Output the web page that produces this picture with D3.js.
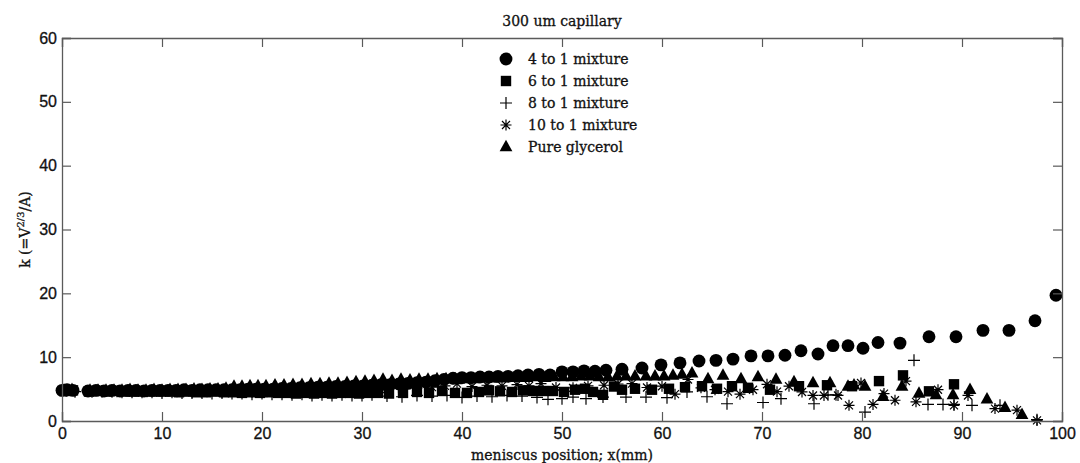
<!DOCTYPE html>
<html>
<head>
<meta charset="utf-8">
<script src="https://cdn.jsdelivr.net/npm/d3@7"></script>
<style>
  html, body { margin: 0; padding: 0; background: #fff; }
  svg { display: block; }
</style>
</head>
<body>
<svg id="chart" width="1080" height="463"></svg>
<script>
// k = V^(2/3)/A against meniscus position x (mm), 300 um capillary
const xTicks = [0, 10, 20, 30, 40, 50, 60, 70, 80, 90, 100];
const yTicks = [0, 10, 20, 30, 40, 50, 60];

const seriesNames = ["4 to 1 mixture", "6 to 1 mixture", "8 to 1 mixture", "10 to 1 mixture", "Pure glycerol"];

const mix4to1 = [
  [0.0,4.8],[0.5,4.9],[1.1,4.8],[2.6,4.7],[3.4,4.8],[4.2,4.7],[5.0,4.8],[5.8,4.7],[6.6,4.8],[7.4,4.8],
  [8.2,4.7],[9.0,4.8],[9.8,4.8],[10.6,4.8],[11.4,4.8],[12.2,4.9],[13.0,4.8],[13.8,4.9],[14.6,4.9],[15.4,4.9],
  [16.2,4.9],[17.0,4.9],[17.8,4.9],[18.6,5.0],[19.4,5.0],[20.2,5.0],[21.1,5.0],[22.0,5.1],[22.9,5.1],[23.8,5.2],
  [24.7,5.2],[25.6,5.3],[26.5,5.3],[27.4,5.4],[28.3,5.4],[29.2,5.5],[30.1,5.5],[31.0,5.6],[31.9,5.7],[32.8,5.7],
  [33.7,5.8],[34.6,5.9],[35.5,6.0],[36.4,6.1],[37.3,6.3],[38.2,6.5],[39.1,6.7],[40.0,6.8],[40.9,6.8],[41.8,6.9],
  [42.7,6.9],[43.6,7.0],[44.6,7.0],[45.6,7.1],[46.6,7.2],[47.7,7.3],[48.8,7.2],[50.0,7.7],[51.1,7.7],[52.2,7.85],
  [53.3,7.8],[54.4,7.95],[56.0,8.1],[58.0,8.3],[59.9,8.8],[61.8,9.1],[63.7,9.4],[65.4,9.5],[67.1,9.7],[68.9,10.2],
  [70.6,10.2],[72.3,10.3],[73.9,11.0],[75.6,10.5],[77.1,11.8],[78.6,11.8],[80.1,11.4],[81.6,12.3],[83.8,12.2],
  [86.7,13.2],[89.4,13.2],[92.1,14.2],[94.7,14.2],[97.3,15.7],[99.4,19.7]
];

const mix6to1 = [
  [0.3,4.7],[1.1,4.8],[2.7,4.6],[3.6,4.7],[4.5,4.6],[5.4,4.7],[6.3,4.6],[7.2,4.6],[8.1,4.6],[9.0,4.6],
  [9.9,4.6],[10.8,4.6],[11.7,4.5],[12.6,4.6],[13.5,4.5],[14.4,4.5],[15.3,4.6],[16.2,4.5],[17.1,4.5],[18.0,4.4],
  [18.9,4.5],[19.8,4.4],[20.7,4.5],[21.6,4.4],[22.5,4.4],[23.4,4.3],[24.3,4.4],[25.2,4.3],[26.1,4.4],[27.0,4.3],
  [27.9,4.4],[28.8,4.4],[29.7,4.3],[30.6,4.4],[31.6,4.4],[32.7,4.3],[34.1,4.4],[35.5,4.55],[36.7,4.4],[38.0,4.7],
  [39.3,4.4],[40.5,4.4],[41.7,4.55],[42.7,4.8],[43.8,4.65],[45.0,4.55],[46.1,4.8],[47.1,4.7],[48.1,4.7],[49.1,4.7],
  [50.2,4.55],[51.3,4.9],[52.3,5.05],[53.1,4.55],[54.1,4.1],[55.2,5.4],[56.0,4.9],[57.3,5.05],[59.0,4.9],[60.7,5.05],
  [62.3,5.3],[64.0,5.45],[65.5,5.05],[67.0,5.45],[68.6,5.2],[70.8,4.9],[73.7,5.45],[76.5,5.6],[79.0,5.45],
  [81.7,6.25],[84.1,7.15],[86.7,4.65],[89.2,5.75]
];

const mix8to1 = [
  [0.4,4.7],[1.3,4.6],[3.0,4.6],[4.0,4.6],[5.0,4.6],[6.0,4.5],[7.0,4.5],[8.0,4.5],[9.0,4.5],[10.0,4.4],
  [11.0,4.5],[12.0,4.4],[13.0,4.4],[14.0,4.4],[15.0,4.3],[16.0,4.4],[17.0,4.3],[18.0,4.3],[19.0,4.2],[20.0,4.3],
  [21.0,4.2],[22.0,4.2],[23.0,4.1],[24.0,4.2],[25.0,4.0],[26.0,4.1],[27.0,4.0],[28.0,4.1],[29.0,4.0],[30.0,4.0],
  [31.0,4.1],[32.5,3.9],[34.0,3.8],[35.5,4.0],[37.0,3.9],[38.5,4.0],[40.0,3.7],[41.5,3.9],[43.0,3.8],[44.5,4.0],
  [46.0,3.9],[47.5,3.7],[48.6,3.4],[50.0,3.5],[51.1,3.75],[52.4,3.5],[54.1,3.75],[56.4,3.75],[58.4,3.75],[60.5,3.65],
  [62.5,4.55],[64.5,3.8],[66.5,2.7],[70.1,2.9],[71.9,3.5],[75.2,2.7],[76.6,4.1],[77.4,4.1],[80.3,1.4],[85.2,9.5],
  [86.6,2.6],[88.1,2.6],[89.2,2.6],[91.0,2.45],[93.8,2.45],[97.5,0.2]
];

const mix10to1 = [
  [0.5,4.7],[2.5,4.7],[4.0,4.7],[5.5,4.6],[7.0,4.6],[8.5,4.6],[10.0,4.6],[11.5,4.6],[13.0,4.5],[14.5,4.6],
  [16.0,4.5],[17.5,4.6],[19.0,4.5],[20.5,4.6],[22.0,4.5],[23.5,4.6],[25.0,4.6],[26.5,4.7],[28.0,4.7],[29.5,4.8],
  [31.0,4.9],[32.5,5.0],[34.0,5.1],[35.5,5.2],[37.0,5.3],[38.3,5.5],[39.5,5.85],[41.0,5.4],[42.5,5.6],[44.0,5.5],
  [45.5,5.7],[46.7,5.5],[47.9,5.85],[49.4,5.25],[51.1,5.2],[52.6,5.5],[54.2,5.6],[55.6,5.8],[57.0,5.85],[58.5,5.25],
  [60.0,5.45],[61.3,4.2],[62.6,6.5],[63.9,5.2],[65.3,4.9],[66.6,4.6],[67.8,4.2],[69.1,4.9],[70.5,5.75],[71.5,4.6],
  [72.7,5.45],[74.0,4.55],[75.1,4.0],[76.2,4.0],[77.6,4.0],[78.7,2.45],[79.9,5.95],[81.1,2.6],[82.2,4.3],[83.3,3.25],
  [84.4,6.25],[85.4,3.0],[87.6,4.9],[89.2,2.45],[90.6,4.0],[93.3,1.95],[95.5,1.7],[97.5,0.1]
];

const pureGlycerol = [
  [0.2,4.8],[1.0,4.9],[2.8,4.8],[3.6,4.8],[4.4,4.8],[5.2,4.8],[6.0,4.8],[6.8,4.9],[7.6,4.8],[8.4,4.8],
  [9.2,4.9],[10.0,4.8],[10.8,4.9],[11.6,4.9],[12.4,4.9],[13.2,5.0],[14.0,4.9],[14.8,5.0],[15.6,5.0],[16.4,5.1],
  [17.2,5.4],[18.0,5.4],[18.8,5.5],[19.6,5.5],[20.4,5.5],[21.3,5.6],[22.2,5.6],[23.1,5.7],[24.0,5.7],[24.9,5.8],
  [25.8,5.8],[26.7,5.9],[27.6,5.9],[28.5,6.0],[29.4,6.1],[30.3,6.2],[31.2,6.3],[32.1,6.5],[33.0,6.3],[33.9,6.5],
  [34.8,6.4],[35.7,6.5],[36.6,6.5],[37.5,6.6],[38.4,6.6],[39.3,6.6],[40.2,6.6],[41.1,6.6],[42.0,6.7],[42.9,6.7],
  [43.8,6.7],[44.7,6.8],[45.6,6.8],[46.5,6.8],[47.4,6.9],[48.3,6.8],[49.2,6.9],[50.1,6.9],[51.0,6.9],[51.9,7.0],
  [52.8,7.0],[53.7,6.9],[54.6,6.9],[55.5,7.0],[56.4,7.0],[57.3,7.0],[58.4,7.0],[59.3,7.0],[60.2,7.0],[61.1,7.15],
  [62.0,7.3],[63.0,7.5],[64.6,6.6],[66.1,7.15],[67.9,6.6],[69.6,6.9],[71.4,6.5],[73.2,6.1],[75.1,5.95],[76.8,5.95],
  [78.6,5.4],[79.2,5.6],[80.3,5.4],[82.1,3.8],[84.0,5.4],[85.7,4.3],[87.4,4.1],[89.1,4.1],[90.8,4.9],[92.5,3.4],
  [94.3,2.1],[96.0,1.0]
];

const svg = d3.select("#chart");
const W = 1080, H = 463;
const margin = { left: 62, right: 18, top: 38, bottom: 42 };
const x0 = margin.left, x1 = W - margin.right;
const y0 = H - margin.bottom, y1 = margin.top;

const x = d3.scaleLinear().domain([0, 100]).range([x0, x1]);
const y = d3.scaleLinear().domain([0, 60]).range([y0, y1]);

const axisColor = "#5a5a5a";
const tickFont = "'Liberation Sans', Arial, sans-serif";
const serifFont = "'DejaVu Serif', 'Liberation Serif', serif";

// Marker path generators (MATLAB-style symbols)
const markerPaths = {
  circle: () => d3.symbol(d3.symbolCircle, 130)(),
  square: () => "M-5.2,-5.2H5.2V5.2H-5.2Z",
  triangle: () => "M0,-7.2L6.4,4.3L-6.4,4.3Z",
  plus: () => "M-6,0H6M0,-6V6",
  star: () => "M-5.5,0H5.5M0,-5.5V5.5M-4,-4L4,4M-4,4L4,-4"
};
const seriesDefs = [
  { name: seriesNames[0], data: mix4to1, shape: "circle", filled: true },
  { name: seriesNames[1], data: mix6to1, shape: "square", filled: true },
  { name: seriesNames[2], data: mix8to1, shape: "plus", filled: false },
  { name: seriesNames[3], data: mix10to1, shape: "star", filled: false },
  { name: seriesNames[4], data: pureGlycerol, shape: "triangle", filled: true }
];

function styleMarker(sel, def) {
  sel.attr("d", markerPaths[def.shape]());
  if (def.filled) sel.attr("fill", "#000").attr("stroke", "none");
  else sel.attr("fill", "none").attr("stroke", "#000").attr("stroke-width", 1.2);
}

// Slightly heavier text rendering
function heavyText(sel, size, family) {
  sel.style("font-family", family).style("font-size", size + "px")
    .attr("fill", "#111").attr("stroke", "#111").attr("stroke-width", 0.3);
}

// Data markers
const plot = svg.append("g");
seriesDefs.forEach(def => {
  plot.append("g").selectAll("path").data(def.data).join("path")
    .attr("transform", d => `translate(${x(d[0])},${y(d[1])})`)
    .call(styleMarker, def);
});

// Box axes with inward ticks on all four sides
const tickLen = 9;
const axisG = svg.append("g");
const bottomAxis = d3.axisBottom(x).tickValues(xTicks).tickSize(-tickLen).tickPadding(7).tickFormat(d3.format("d"));
const topAxis = d3.axisTop(x).tickValues(xTicks).tickSize(-tickLen).tickFormat("");
const leftAxis = d3.axisLeft(y).tickValues(yTicks).tickSize(-tickLen).tickPadding(5).tickFormat(d3.format("d"));
const rightAxis = d3.axisRight(y).tickValues(yTicks).tickSize(-tickLen).tickFormat("");

axisG.append("g").attr("transform", `translate(0,${y0})`).call(bottomAxis);
axisG.append("g").attr("transform", `translate(0,${y1})`).call(topAxis);
axisG.append("g").attr("transform", `translate(${x0},0)`).call(leftAxis);
axisG.append("g").attr("transform", `translate(${x1},0)`).call(rightAxis);

axisG.selectAll(".domain").attr("stroke", axisColor).attr("stroke-width", 1.3);
axisG.selectAll(".tick line").attr("stroke", axisColor).attr("stroke-width", 1.2);
axisG.selectAll(".tick text").call(heavyText, 16, tickFont);

// Title
svg.append("text")
  .attr("x", (x0 + x1) / 2).attr("y", 26)
  .attr("text-anchor", "middle")
  .call(heavyText, 14, serifFont)
  .text("300 um capillary");

// X label
svg.append("text")
  .attr("x", (x0 + x1) / 2).attr("y", 460)
  .attr("text-anchor", "middle")
  .call(heavyText, 14, serifFont)
  .text("meniscus position; x(mm)");

// Y label with superscript exponent
const yl = svg.append("text")
  .attr("transform", `translate(30,${(y0 + y1) / 2}) rotate(-90)`)
  .attr("text-anchor", "middle")
  .call(heavyText, 14, serifFont);
yl.append("tspan").text("k (=V");
yl.append("tspan").attr("dy", -6).style("font-size", "10px").text("2/3");
yl.append("tspan").attr("dy", 6).text("/A)");

// Legend
const legend = svg.append("g");
seriesDefs.forEach((def, i) => {
  const ly = 59 + i * 22;
  legend.append("path").attr("transform", `translate(506,${ly})`).call(styleMarker, def);
  legend.append("text")
    .attr("x", 528).attr("y", ly + 5)
    .call(heavyText, 14, serifFont)
    .text(def.name);
});
</script>
</body>
</html>
